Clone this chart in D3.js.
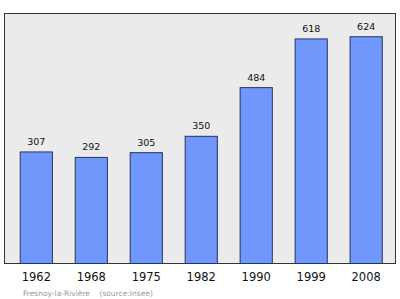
<!DOCTYPE html>
<html>
<head>
<meta charset="utf-8">
<script src="https://cdn.jsdelivr.net/npm/d3@7"></script>
<style>
  body { margin: 0; background: #fff; }
  svg { display: block; font-family: 'DejaVu Sans', sans-serif; }
</style>
</head>
<body>
<svg id="chart"></svg>
<script>
const years = ['1962', '1968', '1975', '1982', '1990', '1999', '2008']
const population = [307, 292, 305, 350, 484, 618, 624]
const caption = 'Fresnoy-la-Rivière    (source:Insee)'

const width = 400
const height = 299
const panel = { left: 4.5, top: 13.5, right: 395.5, bottom: 263.5 }

const svg = d3.select('#chart')
  .attr('width', width)
  .attr('height', height)

svg.append('rect')
  .attr('x', panel.left)
  .attr('y', panel.top)
  .attr('width', panel.right - panel.left)
  .attr('height', panel.bottom - panel.top)
  .attr('fill', '#ebebeb')
  .attr('stroke', '#333')
  .attr('stroke-width', 1)

const x = d3.scaleBand()
  .domain(years)
  .range([panel.left + 2, panel.right + 0.5])
  .paddingInner(0.415)
  .paddingOuter(0.25)

const y = d3.scaleLinear()
  .domain([0, 688])
  .range([panel.bottom, panel.top])

const data = years.map((year, i) => ({ year, value: population[i] }))

svg.append('g')
  .selectAll('rect')
  .data(data)
  .join('rect')
  .attr('x', d => x(d.year))
  .attr('y', d => y(d.value))
  .attr('width', x.bandwidth())
  .attr('height', d => y(0) - y(d.value))
  .attr('fill', '#7097fb')
  .attr('stroke', '#26345e')
  .attr('stroke-width', 1)

svg.append('g')
  .selectAll('text')
  .data(data)
  .join('text')
  .attr('x', d => x(d.year) + x.bandwidth() / 2)
  .attr('y', d => y(d.value) - 7)
  .attr('text-anchor', 'middle')
  .attr('font-size', 9.5)
  .attr('fill', '#111')
  .text(d => d.value)

const xAxis = d3.axisBottom(x).tickSize(0).tickPadding(9)
const gx = svg.append('g')
  .attr('transform', `translate(0, ${panel.bottom})`)
  .call(xAxis)
gx.select('.domain').remove()
gx.selectAll('text')
  .attr('font-size', 11.5)
  .attr('font-family', "'DejaVu Sans', sans-serif")
  .attr('fill', '#111')

svg.append('text')
  .attr('x', 23)
  .attr('y', 296)
  .attr('font-size', 7.5)
  .attr('fill', '#999')
  .attr('xml:space', 'preserve')
  .text(caption)
</script>
</body>
</html>
